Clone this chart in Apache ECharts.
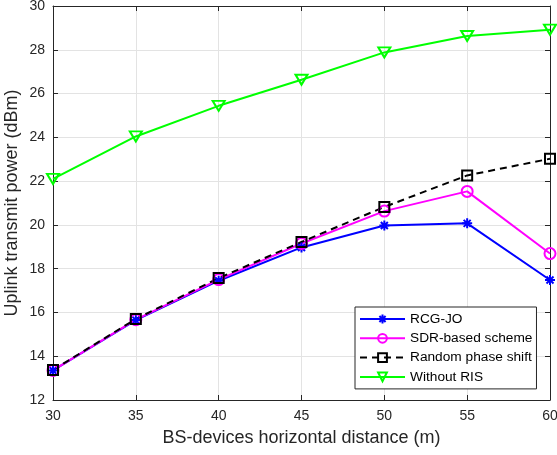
<!DOCTYPE html>
<html>
<head>
<meta charset="utf-8">
<script src="https://cdn.jsdelivr.net/npm/echarts@6/dist/echarts.min.js"></script>
<style>html,body{margin:0;padding:0;background:#fff}#c{width:557px;height:455px}</style>
</head>
<body>
<div id="c"></div>
<script>
const distances = [30, 35, 40, 45, 50, 55, 60];
const rcgJo = [13.35, 15.65, 17.45, 18.97, 19.97, 20.07, 17.48];
const sdrBased = [13.35, 15.67, 17.5, 19.15, 20.63, 21.53, 18.69];
const randomPhase = [13.37, 15.7, 17.57, 19.22, 20.82, 22.26, 23.02];
const withoutRis = [22.1, 24.04, 25.44, 26.63, 27.88, 28.63, 28.92];
const seriesNames = ['RCG-JO', 'SDR-based scheme', 'Random phase shift', 'Without RIS'];
const xTicks = [30, 35, 40, 45, 50, 55, 60];
const yTicks = [12, 14, 16, 18, 20, 22, 24, 26, 28, 30];

const pairs = arr => distances.map((d, i) => [d, arr[i]]);
const FONT = '"Liberation Sans", Arial, Helvetica, sans-serif';
const AX = '#262626';

function mkSeries(name, data, color, symbol, size, dashed) {
  return {
    name: name, type: 'line', data: pairs(data),
    symbol: symbol, symbolSize: size,
    lineStyle: { color: color, width: 2, type: dashed ? [7, 5] : 'solid' },
    itemStyle: { color: 'rgba(0,0,0,0)', borderColor: color, borderWidth: 2 },
    emphasis: { disabled: true },
    animation: false
  };
}

const chart = echarts.init(document.getElementById('c'), null, { renderer: 'canvas' });
const xMin = xTicks[0], xMax = xTicks[xTicks.length - 1];
const yMin = yTicks[0], yMax = yTicks[yTicks.length - 1];
chart.setOption({
  backgroundColor: '#fff',
  animation: false,
  grid: { left: 53, right: 7, top: 6, bottom: 55, containLabel: false, outerBoundsMode: 'none' },
  xAxis: [
    {
      type: 'value', min: xMin, max: xMax, interval: 5, position: 'bottom',
      name: 'BS-devices horizontal distance (m)',
      nameLocation: 'middle', nameGap: 29, nameMoveOverlap: false,
      nameTextStyle: { fontFamily: FONT, fontSize: 18, color: AX },
      axisLine: { show: true, onZero: false, lineStyle: { color: AX, width: 1 } },
      axisTick: { show: true, inside: true, length: 5, lineStyle: { color: AX } },
      axisLabel: { fontFamily: FONT, fontSize: 14, color: AX, margin: 9 },
      splitLine: { show: true, lineStyle: { color: '#e3e3e3', width: 1 } }
    },
    {
      type: 'value', min: xMin, max: xMax, interval: 5, position: 'top',
      axisLine: { show: true, onZero: false, lineStyle: { color: AX, width: 1 } },
      axisTick: { show: true, inside: true, length: 5, lineStyle: { color: AX } },
      axisLabel: { show: false },
      splitLine: { show: false }
    }
  ],
  yAxis: [
    {
      type: 'value', min: yMin, max: yMax, interval: 2, position: 'left',
      name: 'Uplink transmit power (dBm)',
      nameLocation: 'middle', nameGap: 32, nameMoveOverlap: false,
      nameTextStyle: { fontFamily: FONT, fontSize: 18, color: AX },
      axisLine: { show: true, onZero: false, lineStyle: { color: AX, width: 1 } },
      axisTick: { show: true, inside: true, length: 5, lineStyle: { color: AX } },
      axisLabel: { fontFamily: FONT, fontSize: 14, color: AX, margin: 8 },
      splitLine: { show: true, lineStyle: { color: '#e3e3e3', width: 1 } }
    },
    {
      type: 'value', min: yMin, max: yMax, interval: 2, position: 'right',
      axisLine: { show: true, onZero: false, lineStyle: { color: AX, width: 1 } },
      axisTick: { show: true, inside: true, length: 5, lineStyle: { color: AX } },
      axisLabel: { show: false },
      splitLine: { show: false }
    }
  ],
  legend: {
    orient: 'vertical',
    left: 355, top: 307,
    padding: [5, 4, 5, 4],
    itemWidth: 45, itemHeight: 11, itemGap: 5.3,
    backgroundColor: '#fff',
    borderColor: AX, borderWidth: 1, borderRadius: 0,
    textStyle: { fontFamily: FONT, fontSize: 13.7, color: '#000' },
    data: seriesNames
  },
  series: [
    mkSeries(seriesNames[0], rcgJo, '#0000ff',
      'path://M0,-10L0,10M-10,0L10,0M-7,-7L7,7M-7,7L7,-7', 10, false),
    mkSeries(seriesNames[1], sdrBased, '#ff00ff', 'circle', 11, false),
    mkSeries(seriesNames[2], randomPhase, '#000000', 'rect', 10, true),
    mkSeries(seriesNames[3], withoutRis, '#00ff00', 'path://M0,0L10,0L5,9Z', [12, 10], false)
  ]
});
</script>
</body>
</html>
